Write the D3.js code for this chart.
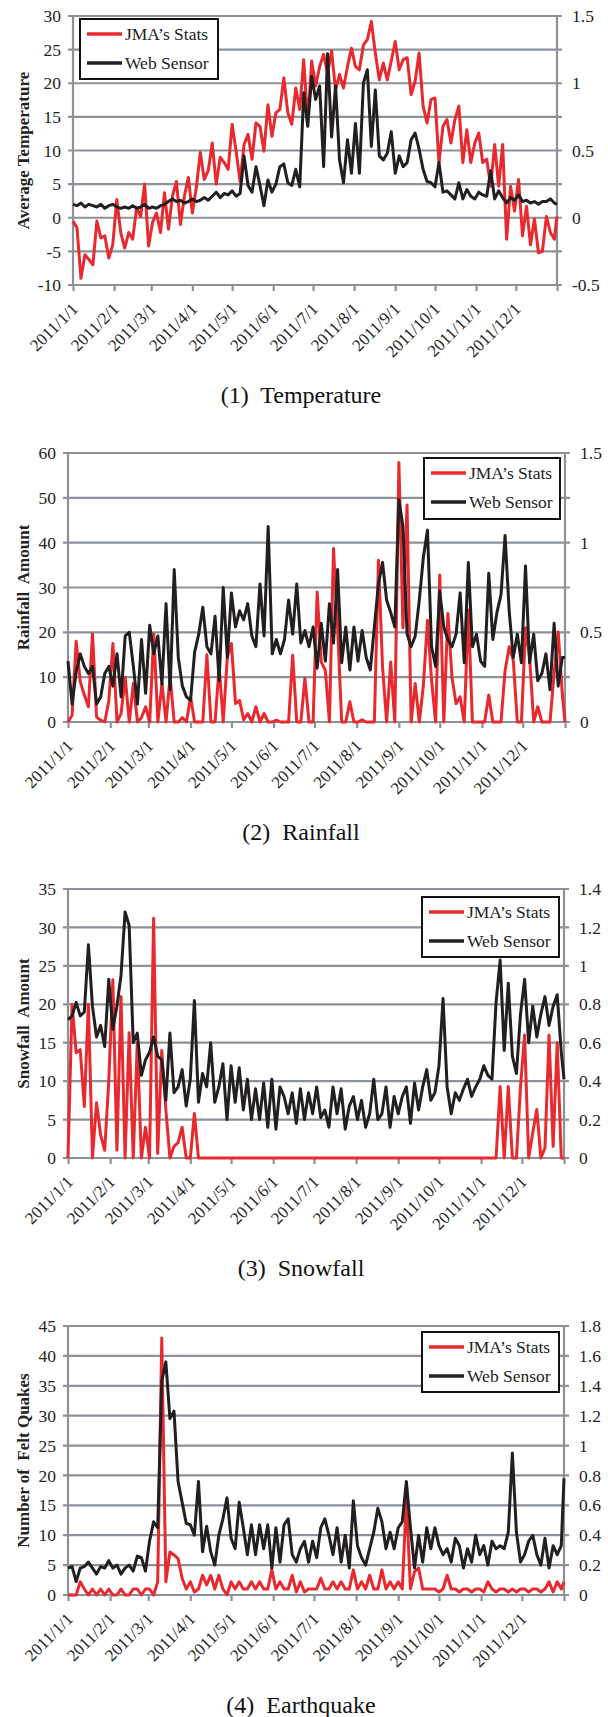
<!DOCTYPE html>
<html>
<head>
<meta charset="utf-8">
<title>JMA stats vs web sensor</title>
<script src="https://d3js.org/d3.v7.min.js"></script>
<style>
body { margin: 0; background: #fff; }
svg { display: block; }
text { font-family: "Liberation Serif", "Times New Roman", Times, "DejaVu Serif", serif; }
</style>
</head>
<body>
<svg id="chart" width="608" height="1717"></svg>
<script>
// month labels on the x axis
const monthLabels = ["2011/1/1", "2011/2/1", "2011/3/1", "2011/4/1", "2011/5/1", "2011/6/1",
    "2011/7/1", "2011/8/1", "2011/9/1", "2011/10/1", "2011/11/1", "2011/12/1"];
const stepDays = 3; // values read every 3 days, last one on 12/31

// (1) temperature
const tempJma = [-0.5, -1.5, -9, -5.5, -6.2, -7, -0.5, -3, -2.7, -6,
    -4, 2.7, -2.2, -4.5, -2.2, -3.2, 1.5, 0.2, 5, -4.2,
    -0.7, 0.7, -2.2, 3.7, -1.7, 3.2, 5.4, -1, 3.2, 6,
    0.7, 4.5, 9.7, 5.7, 7, 11.1, 5, 9, 8.2, 7.2,
    13.9, 9.9, 5.4, 10.9, 12.4, 8.7, 14.1, 13.6, 9.9, 16.8,
    12.1, 15.6, 16.1, 20.8, 15.6, 13.9, 19.3, 16.1, 23.5, 14.1,
    23.3, 19.6, 22.5, 24.3, 21.5, 24.8, 19, 21.3, 19.3, 22.5,
    25.2, 22.5, 22, 25.7, 26.5, 29.2, 24.5, 20.5, 23, 20.5,
    23.3, 26.2, 22, 23.5, 23.8, 18.3, 20.3, 24.5, 16.6, 14.1,
    17.6, 17.8, 8.2, 13.6, 14.6, 11.1, 14.6, 16.6, 8.2, 13.1,
    8.2, 11.1, 12.6, 8.2, 8.7, 4.7, 10.9, 4.7, 10.9, -3.2,
    4.7, 1, 5.7, -2.7, 1.7, -4, -0.2, -5.2, -5, 0.2,
    -2.2, -3.2, 0.2];
const tempWeb = [0.1, 0.09, 0.11, 0.08, 0.1, 0.09, 0.08, 0.1, 0.07, 0.09,
    0.1, 0.08, 0.07, 0.08, 0.07, 0.09, 0.07, 0.08, 0.1, 0.07,
    0.08, 0.07, 0.09, 0.1, 0.12, 0.14, 0.12, 0.13, 0.11, 0.12,
    0.14, 0.12, 0.13, 0.15, 0.13, 0.16, 0.19, 0.15, 0.18, 0.17,
    0.2, 0.16, 0.18, 0.46, 0.24, 0.19, 0.38, 0.24, 0.09, 0.28,
    0.19, 0.25, 0.38, 0.4, 0.26, 0.24, 0.36, 0.23, 0.93, 0.68,
    1.05, 0.88, 0.98, 0.38, 1.22, 0.6, 0.98, 0.43, 0.26, 0.58,
    0.33, 0.7, 0.33, 1.0, 1.1, 0.53, 0.95, 0.46, 0.43, 0.48,
    0.64, 0.33, 0.46, 0.38, 0.41, 0.58, 0.63, 0.51, 0.36, 0.27,
    0.26, 0.23, 0.41, 0.19, 0.2, 0.17, 0.14, 0.26, 0.14, 0.21,
    0.16, 0.14, 0.19, 0.17, 0.16, 0.35, 0.14, 0.2, 0.15, 0.11,
    0.15, 0.13, 0.17, 0.12, 0.13, 0.11, 0.12, 0.1, 0.12, 0.12,
    0.14, 0.11, 0.1];
const tempLeftTicks = [-10, -5, 0, 5, 10, 15, 20, 25, 30];
const tempRightTicks = [-0.5, 0, 0.5, 1, 1.5];

// (2) rainfall
const rainJma = [0, 1.5, 18, 9, 6, 3.4, 19.7, 1.1, 0.4, 0,
    4.8, 17.5, 0, 1.9, 10, 0, 8.6, 0, 1, 3.4,
    0, 19.7, 0, 8.6, 0, 10, 0, 0, 1, 0,
    5.6, 0, 0, 0, 15, 0, 0, 12.3, 0, 14.5,
    17.5, 4.1, 4.8, 0.5, 1.9, 0, 3.4, 0, 1.9, 0,
    0, 0.4, 0, 0, 0, 14.9, 0, 0, 9.7, 0,
    0, 29, 13.4, 11.5, 0, 38.7, 21, 0, 0, 4.5,
    0, 0, 0.5, 0, 0, 0, 36.1, 12.3, 0, 13.4,
    0, 57.9, 21, 48.4, 0, 8.6, 0, 8.2, 22.7, 9.3,
    0, 32.8, 0, 24.2, 10, 4.1, 5.6, 0, 25, 0,
    0, 0, 0, 6, 0, 0, 0, 11.5, 16.8, 13.8,
    0, 0, 21, 14.5, 0, 3.4, 0, 0, 0, 10.8,
    20.1, 6.3, 0];
const rainWeb = [0.34, 0.1, 0.28, 0.38, 0.31, 0.27, 0.31, 0.1, 0.14, 0.27,
    0.31, 0.2, 0.38, 0.14, 0.48, 0.5, 0.31, 0.1, 0.46, 0.16,
    0.54, 0.38, 0.48, 0.21, 0.66, 0.18, 0.85, 0.36, 0.2, 0.14,
    0.12, 0.39, 0.49, 0.64, 0.42, 0.38, 0.59, 0.23, 0.75, 0.36,
    0.72, 0.53, 0.62, 0.57, 0.66, 0.48, 0.42, 0.77, 0.48, 1.09,
    0.38, 0.46, 0.38, 0.46, 0.68, 0.49, 0.77, 0.44, 0.51, 0.42,
    0.53, 0.3, 0.55, 0.34, 0.66, 0.44, 0.85, 0.33, 0.53, 0.29,
    0.53, 0.34, 0.51, 0.36, 0.29, 0.53, 0.77, 0.89, 0.68, 0.61,
    0.53, 1.24, 1.09, 0.49, 0.42, 0.48, 0.68, 0.92, 1.07, 0.42,
    0.31, 0.73, 0.53, 0.46, 0.42, 0.49, 0.72, 0.33, 0.89, 0.42,
    0.49, 0.34, 0.31, 0.83, 0.46, 0.61, 0.71, 1.04, 0.62, 0.36,
    0.49, 0.33, 0.87, 0.33, 0.49, 0.23, 0.27, 0.38, 0.18, 0.55,
    0.2, 0.36, 0.36];
const rainLeftTicks = [0, 10, 20, 30, 40, 50, 60];
const rainRightTicks = [0, 0.5, 1, 1.5];

// (3) snowfall
const snowJma = [0, 20, 13.7, 14.1, 6.7, 20, 0, 7.2, 3, 1,
    10, 23.2, 1, 21, 0, 16.3, 0, 15, 0, 4,
    0, 31.2, 0.6, 14, 6.3, 0, 1.5, 2, 4, 0,
    0, 5.8, 0, 0, 0, 0, 0, 0, 0, 0,
    0, 0, 0, 0, 0, 0, 0, 0, 0, 0,
    0, 0, 0, 0, 0, 0, 0, 0, 0, 0,
    0, 0, 0, 0, 0, 0, 0, 0, 0, 0,
    0, 0, 0, 0, 0, 0, 0, 0, 0, 0,
    0, 0, 0, 0, 0, 0, 0, 0, 0, 0,
    0, 0, 0, 0, 0, 0, 0, 0, 0, 0,
    0, 0, 0, 0, 0, 0, 9.3, 0, 9.3, 0,
    0, 9.3, 16, 0, 3.3, 6.3, 0, 1.3, 16, 1.5,
    15, 0, 0];
const snowWeb = [0.72, 0.74, 0.81, 0.74, 0.76, 1.11, 0.79, 0.63, 0.69, 0.58,
    0.93, 0.67, 0.79, 0.95, 1.28, 1.21, 0.6, 0.65, 0.43, 0.51,
    0.55, 0.63, 0.53, 0.51, 0.3, 0.65, 0.34, 0.37, 0.46, 0.27,
    0.41, 0.82, 0.29, 0.44, 0.37, 0.6, 0.29, 0.37, 0.49, 0.2,
    0.48, 0.29, 0.47, 0.25, 0.41, 0.2, 0.36, 0.2, 0.39, 0.16,
    0.41, 0.15, 0.37, 0.32, 0.23, 0.34, 0.18, 0.36, 0.2, 0.34,
    0.23, 0.37, 0.21, 0.25, 0.16, 0.37, 0.23, 0.36, 0.15, 0.27,
    0.32, 0.2, 0.3, 0.16, 0.23, 0.41, 0.2, 0.23, 0.37, 0.16,
    0.32, 0.23, 0.32, 0.37, 0.18, 0.39, 0.25, 0.37, 0.46, 0.3,
    0.34, 0.48, 0.83, 0.37, 0.23, 0.34, 0.3, 0.36, 0.41, 0.32,
    0.37, 0.41, 0.48, 0.43, 0.41, 0.81, 1.03, 0.56, 0.91, 0.53,
    0.44, 0.75, 0.93, 0.6, 0.79, 0.63, 0.75, 0.84, 0.69, 0.79,
    0.85, 0.55, 0.41];
const snowLeftTicks = [0, 5, 10, 15, 20, 25, 30, 35];
const snowRightTicks = [0, 0.2, 0.4, 0.6, 0.8, 1, 1.2, 1.4];

// (4) earthquake
const quakeJma = [0, 0, 0, 2.2, 1, 0, 1, 0, 1, 0,
    1, 0, 0, 1, 0, 0, 1, 1, 0, 1,
    1, 0, 2.2, 43, 2.2, 7.2, 6.7, 6.1, 2.8, 1,
    2.2, 0.5, 1, 3.3, 1.7, 3.3, 1, 3.3, 1, 0,
    2.2, 1, 2.2, 1, 1, 2.2, 1, 2.2, 1, 1,
    4.2, 1, 2.2, 1, 1, 3.3, 0.5, 2.2, 0.5, 1,
    1, 1, 2.8, 1, 1, 2.2, 1, 2.2, 1, 1,
    4.2, 1, 2.2, 1, 3.3, 1, 1, 4.2, 1, 2.2,
    1, 2.2, 1, 16.1, 1, 3.9, 4.5, 1, 1, 1,
    1, 0.5, 1, 3.3, 1, 1, 0.5, 1, 1, 0.5,
    1, 1, 0.5, 2.2, 1, 0.5, 1, 1, 0.5, 1,
    0.5, 1, 1, 0.5, 1, 1, 0.5, 1, 2.2, 0.5,
    2.2, 1, 2.2];
const quakeWeb = [0.18, 0.19, 0.09, 0.18, 0.19, 0.22, 0.18, 0.14, 0.19, 0.18,
    0.23, 0.18, 0.2, 0.14, 0.18, 0.2, 0.16, 0.26, 0.25, 0.16,
    0.36, 0.49, 0.45, 1.43, 1.56, 1.18, 1.23, 0.76, 0.62, 0.48,
    0.47, 0.4, 0.76, 0.29, 0.46, 0.29, 0.2, 0.4, 0.51, 0.65,
    0.38, 0.31, 0.62, 0.45, 0.27, 0.47, 0.27, 0.47, 0.31, 0.47,
    0.18, 0.45, 0.22, 0.47, 0.51, 0.27, 0.22, 0.31, 0.36, 0.22,
    0.36, 0.25, 0.45, 0.51, 0.4, 0.27, 0.45, 0.22, 0.4, 0.18,
    0.63, 0.33, 0.25, 0.2, 0.31, 0.42, 0.58, 0.49, 0.31, 0.42,
    0.31, 0.45, 0.49, 0.76, 0.45, 0.18, 0.4, 0.22, 0.45, 0.31,
    0.45, 0.33, 0.27, 0.31, 0.22, 0.38, 0.33, 0.18, 0.31, 0.22,
    0.4, 0.27, 0.33, 0.2, 0.36, 0.31, 0.33, 0.31, 0.42, 0.95,
    0.42, 0.22, 0.27, 0.36, 0.4, 0.27, 0.2, 0.38, 0.18, 0.33,
    0.27, 0.33, 0.78];
const quakeLeftTicks = [0, 5, 10, 15, 20, 25, 30, 35, 40, 45];
const quakeRightTicks = [0, 0.2, 0.4, 0.6, 0.8, 1, 1.2, 1.4, 1.6, 1.8];

const panels = [
    { left: 73, right: 557, top: 16, bottom: 285, jma: tempJma, web: tempWeb,
      leftTicks: tempLeftTicks, rightTicks: tempRightTicks,
      title: "Average Temperature", caption: "(1)  Temperature", legend: [80, 19, 138, 60] },
    { left: 68, right: 565, top: 453, bottom: 722, jma: rainJma, web: rainWeb,
      leftTicks: rainLeftTicks, rightTicks: rainRightTicks,
      title: "Rainfall  Amount", caption: "(2)  Rainfall", legend: [424, 458, 136, 61] },
    { left: 68, right: 564, top: 889, bottom: 1158, jma: snowJma, web: snowWeb,
      leftTicks: snowLeftTicks, rightTicks: snowRightTicks,
      title: "Snowfall  Amount", caption: "(3)  Snowfall", legend: [422, 897, 137, 60] },
    { left: 68, right: 564, top: 1326, bottom: 1595, jma: quakeJma, web: quakeWeb,
      leftTicks: quakeLeftTicks, rightTicks: quakeRightTicks,
      title: "Number of  Felt Quakes", caption: "(4)  Earthquake", legend: [422, 1332, 137, 60] }
];

const axisColor = "#8b9299";
const red = "#e8292e";
const black = "#231f20";
const serif = "'Liberation Serif', 'Times New Roman', Times, serif";
const start = new Date(2011, 0, 1);
const end = new Date(2012, 0, 1);
const svg = d3.select("#chart").attr("font-family", serif);

function dayOf(i) {
    return d3.timeDay.offset(start, Math.min(i * stepDays, 365));
}

panels.forEach(p => {
    const g = svg.append("g").attr("font-family", serif);
    const x = d3.scaleTime().domain([start, end]).range([p.left, p.right]);
    const yL = d3.scaleLinear().domain(d3.extent(p.leftTicks)).range([p.bottom, p.top]);
    const yR = d3.scaleLinear().domain(d3.extent(p.rightTicks)).range([p.bottom, p.top]);

    // grid lines (stick out a little on both sides like tick marks)
    g.selectAll(".grid").data(p.leftTicks).enter().append("line")
        .attr("x1", p.left - 5).attr("x2", p.right + 5)
        .attr("y1", d => yL(d)).attr("y2", d => yL(d))
        .attr("stroke", axisColor).attr("stroke-width", 2.2);

    // vertical axis lines
    [p.left, p.right].forEach(ax => {
        g.append("line").attr("x1", ax).attr("x2", ax)
            .attr("y1", p.top).attr("y2", p.bottom)
            .attr("stroke", axisColor).attr("stroke-width", 2.2);
    });

    // x axis ticks
    const months = d3.timeMonth.range(start, end);
    const xAxis = g.append("g")
        .attr("transform", `translate(0,${p.bottom})`)
        .call(d3.axisBottom(x).tickValues(months.concat([end])).tickSize(6).tickFormat(""));
    xAxis.select(".domain").remove();
    xAxis.selectAll("line").attr("stroke", axisColor).attr("stroke-width", 2.2);

    g.selectAll(".mlab").data(months).enter().append("text")
        .attr("transform", d => `translate(${x(d) + 6},${p.bottom + 25}) rotate(-45)`)
        .attr("text-anchor", "end")
        .attr("font-size", 17)
        .attr("fill", "#222")
        .text((d, i) => monthLabels[i]);

    // left and right tick labels
    g.selectAll(".ll").data(p.leftTicks).enter().append("text")
        .attr("x", p.left - 12).attr("y", d => yL(d)).attr("dy", "0.35em")
        .attr("text-anchor", "end").attr("font-size", 17.5).attr("fill", "#222")
        .text(d => d);
    g.selectAll(".rl").data(p.rightTicks).enter().append("text")
        .attr("x", p.right + 15).attr("y", d => yR(d)).attr("dy", "0.35em")
        .attr("text-anchor", "start").attr("font-size", 17.5).attr("fill", "#222")
        .text(d => d);

    // y title
    g.append("text")
        .attr("transform", `translate(29,${(p.top + p.bottom) / 2}) rotate(-90)`)
        .attr("text-anchor", "middle")
        .attr("font-size", 17).attr("font-weight", "bold").attr("fill", "#222")
        .style("white-space", "pre")
        .text(p.title);

    // series
    const lineL = d3.line().x((d, i) => x(dayOf(i))).y(d => yL(d));
    const lineR = d3.line().x((d, i) => x(dayOf(i))).y(d => yR(d));
    g.append("path").datum(p.jma).attr("d", lineL)
        .attr("fill", "none").attr("stroke", red).attr("stroke-width", 3)
        .attr("stroke-linejoin", "round");
    g.append("path").datum(p.web).attr("d", lineR)
        .attr("fill", "none").attr("stroke", black).attr("stroke-width", 3)
        .attr("stroke-linejoin", "round");

    // legend
    const [lx, ly, lw, lh] = p.legend;
    const leg = g.append("g").attr("transform", `translate(${lx},${ly})`);
    leg.append("rect").attr("width", lw).attr("height", lh)
        .attr("fill", "#fff").attr("stroke", "#111").attr("stroke-width", 2);
    [["JMA\u2019s Stats", red, 15], ["Web Sensor", black, 44]].forEach(([label, col, yy]) => {
        leg.append("line").attr("x1", 7).attr("x2", 42).attr("y1", yy).attr("y2", yy)
            .attr("stroke", col).attr("stroke-width", 3.5);
        leg.append("text").attr("x", 45).attr("y", yy).attr("dy", "0.35em")
            .attr("font-size", 17.5).attr("fill", "#222").text(label);
    });

    // caption
    g.append("text")
        .attr("x", 301).attr("y", p.bottom + 118)
        .attr("text-anchor", "middle")
        .attr("font-size", 24).attr("fill", "#111")
        .style("white-space", "pre")
        .text(p.caption);
});
</script>
</body>
</html>
